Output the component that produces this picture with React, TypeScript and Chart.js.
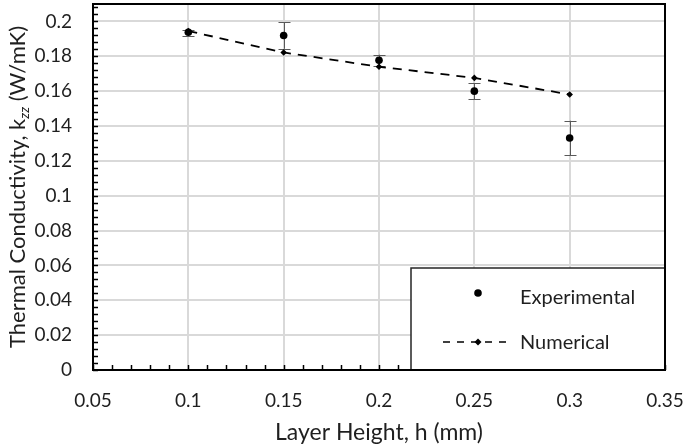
import React, { useEffect, useRef } from "react";
import { Chart, registerables } from "chart.js";

Chart.register(...registerables);

const layerHeights = [0.1, 0.15, 0.2, 0.25, 0.3];
const experimental = [0.1938, 0.1919, 0.1777, 0.16, 0.1331];
const expErrLow = [0.1914, 0.1843, 0.1745, 0.1553, 0.1231];
const expErrHigh = [0.1952, 0.1996, 0.1809, 0.1644, 0.143];
const numerical = [0.1945, 0.1822, 0.174, 0.1676, 0.1581];
const xTickValues = [0.05, 0.1, 0.15, 0.2, 0.25, 0.3, 0.35];
const yTickValues = [0, 0.02, 0.04, 0.06, 0.08, 0.1, 0.12, 0.14, 0.16, 0.18, 0.2];
const xTitle = "Layer Height, h (mm)";
const yTitleMain = "Thermal Conductivity, k";
const yTitleSub = "zz";
const yTitleEnd = " (W/mK)";
const legendLabels = ["Experimental", "Numerical"];

const FONT = "Lato, 'Open Sans', sans-serif";
const TEXT = "#1f1f1f";

const zeroPad = (s: any) => {
  s.paddingTop = 0;
  s.paddingBottom = 0;
  s.paddingLeft = 0;
  s.paddingRight = 0;
};

const decorPlugin = {
  id: "decor",
  beforeDatasetsDraw(chart: any) {
    const { ctx } = chart;
    const xs = chart.scales.x;
    const ys = chart.scales.y;
    ctx.save();
    ctx.strokeStyle = "#595959";
    ctx.lineWidth = 1;
    layerHeights.forEach((h, i) => {
      const px = Math.round(xs.getPixelForValue(h)) + 0.5;
      const top = ys.getPixelForValue(expErrHigh[i]);
      const bot = ys.getPixelForValue(expErrLow[i]);
      ctx.beginPath();
      ctx.moveTo(px, top);
      ctx.lineTo(px, bot);
      ctx.moveTo(px - 6, Math.round(top) + 0.5);
      ctx.lineTo(px + 6, Math.round(top) + 0.5);
      ctx.moveTo(px - 6, Math.round(bot) + 0.5);
      ctx.lineTo(px + 6, Math.round(bot) + 0.5);
      ctx.stroke();
    });
    ctx.restore();
  },
  afterDatasetsDraw(chart: any) {
    const { ctx, chartArea } = chart;
    const xs = chart.scales.x;
    const ys = chart.scales.y;
    ctx.save();
    // minor ticks
    ctx.strokeStyle = "#000";
    ctx.lineWidth = 1.5;
    ctx.beginPath();
    for (let v = 0; v <= 0.2101; v += 0.004) {
      const py = Math.round(ys.getPixelForValue(v)) + 0.5;
      ctx.moveTo(chartArea.left, py);
      ctx.lineTo(chartArea.left + 5, py);
    }
    for (let v = 0.05; v <= 0.3501; v += 0.01) {
      const px = Math.round(xs.getPixelForValue(v)) + 0.5;
      ctx.moveTo(px, chartArea.bottom);
      ctx.lineTo(px, chartArea.bottom - 5);
    }
    ctx.stroke();

    // legend box
    const lx = 411, ly = 268, lw = chartArea.right - 411, lh = chartArea.bottom - 268;
    ctx.fillStyle = "#fff";
    ctx.fillRect(lx, ly, lw, lh);
    ctx.strokeStyle = "#262626";
    ctx.lineWidth = 1.5;
    ctx.strokeRect(lx, ly, lw, lh);
    // experimental entry
    ctx.fillStyle = "#000";
    ctx.beginPath();
    ctx.arc(478, 293, 3.8, 0, Math.PI * 2);
    ctx.fill();
    // numerical entry
    ctx.strokeStyle = "#000";
    ctx.lineWidth = 1.5;
    ctx.setLineDash([7, 7]);
    ctx.beginPath();
    ctx.moveTo(443, 342);
    ctx.lineTo(510, 342);
    ctx.stroke();
    ctx.setLineDash([]);
    ctx.beginPath();
    ctx.moveTo(478, 338.5);
    ctx.lineTo(481.5, 342);
    ctx.lineTo(478, 345.5);
    ctx.lineTo(474.5, 342);
    ctx.closePath();
    ctx.fill();
    ctx.fillStyle = TEXT;
    ctx.font = `20px ${FONT}`;
    ctx.textAlign = "left";
    ctx.textBaseline = "middle";
    ctx.fillText(legendLabels[0], 520, 298);
    ctx.fillText(legendLabels[1], 520, 343);

    // border
    ctx.strokeStyle = "#000";
    ctx.lineWidth = 2;
    ctx.strokeRect(chartArea.left, chartArea.top, chartArea.right - chartArea.left, chartArea.bottom - chartArea.top);

    // y title
    ctx.translate(18, 187);
    ctx.rotate(-Math.PI / 2);
    ctx.fillStyle = TEXT;
    ctx.textBaseline = "middle";
    const mainFont = `22px ${FONT}`;
    const subFont = `italic 14px ${FONT}`;
    ctx.font = mainFont;
    const w1 = ctx.measureText(yTitleMain).width;
    const w3 = ctx.measureText(yTitleEnd).width;
    ctx.font = subFont;
    const w2 = ctx.measureText(yTitleSub).width;
    const total = w1 + w2 + w3;
    let x = -total / 2;
    ctx.textAlign = "left";
    ctx.font = mainFont;
    ctx.fillText(yTitleMain, x, 0);
    x += w1;
    ctx.font = subFont;
    ctx.fillText(yTitleSub, x, 6);
    x += w2;
    ctx.font = mainFont;
    ctx.fillText(yTitleEnd, x, 0);
    ctx.restore();
  },
};

export default function App() {
  const ref = useRef<HTMLCanvasElement>(null);
  useEffect(() => {
    document.body.style.margin = "0";
    const canvas = ref.current!;
    const chart = new Chart(canvas, {
      type: "scatter",
      data: {
        datasets: [
          {
            label: legendLabels[1],
            data: layerHeights.map((h, i) => ({ x: h, y: numerical[i] })),
            showLine: true,
            borderColor: "#000",
            backgroundColor: "#000",
            borderWidth: 1.8,
            borderDash: [9, 7],
            pointStyle: "rectRot",
            pointRadius: 3.3,
            pointBorderWidth: 0,
          },
          {
            label: legendLabels[0],
            data: layerHeights.map((h, i) => ({ x: h, y: experimental[i] })),
            borderColor: "#000",
            backgroundColor: "#000",
            pointRadius: 3.8,
            pointBorderWidth: 0,
          },
        ],
      },
      options: {
        animation: false,
        responsive: false,
        layout: { padding: { top: 1, right: 20, left: 0, bottom: 0 } },
        plugins: { legend: { display: false }, tooltip: { enabled: false } },
        scales: {
          x: {
            type: "linear",
            min: 0.05,
            max: 0.35,
            afterBuildTicks: (s: any) => {
              s.ticks = xTickValues.map((v) => ({ value: v }));
            },
            afterFit: (s: any) => {
              s.height = 76;
              zeroPad(s);
            },
            ticks: {
              callback: (v: any) => String(+Number(v).toFixed(2)),
              font: { family: FONT, size: 19 },
              color: TEXT,
              padding: 19,
              maxRotation: 0,
            },
            grid: { color: "#d9d9d9", lineWidth: 2, drawTicks: false },
            border: { display: false },
            title: {
              display: true,
              text: xTitle,
              font: { family: FONT, size: 23 },
              color: TEXT,
              padding: { top: 3, bottom: 0 },
            },
          },
          y: {
            type: "linear",
            min: 0,
            max: 0.21,
            afterBuildTicks: (s: any) => {
              s.ticks = yTickValues.map((v) => ({ value: v }));
            },
            afterFit: (s: any) => {
              s.width = 93;
              zeroPad(s);
            },
            ticks: {
              callback: (v: any) => String(+Number(v).toFixed(2)),
              font: { family: FONT, size: 19 },
              color: TEXT,
              padding: 21,
            },
            grid: { color: "#d9d9d9", lineWidth: 2, drawTicks: false },
            border: { display: false },
          },
        },
      },
      plugins: [decorPlugin],
    });
    const area = chart.chartArea;
    if (area && Math.abs(area.top - 1) > 0.5) {
      (chart.options.layout as any).padding.top = 1 - (area.top - 1);
      chart.update();
    }
    return () => chart.destroy();
  }, []);
  return <canvas ref={ref} width={685} height={446} style={{ display: "block" }} />;
}
